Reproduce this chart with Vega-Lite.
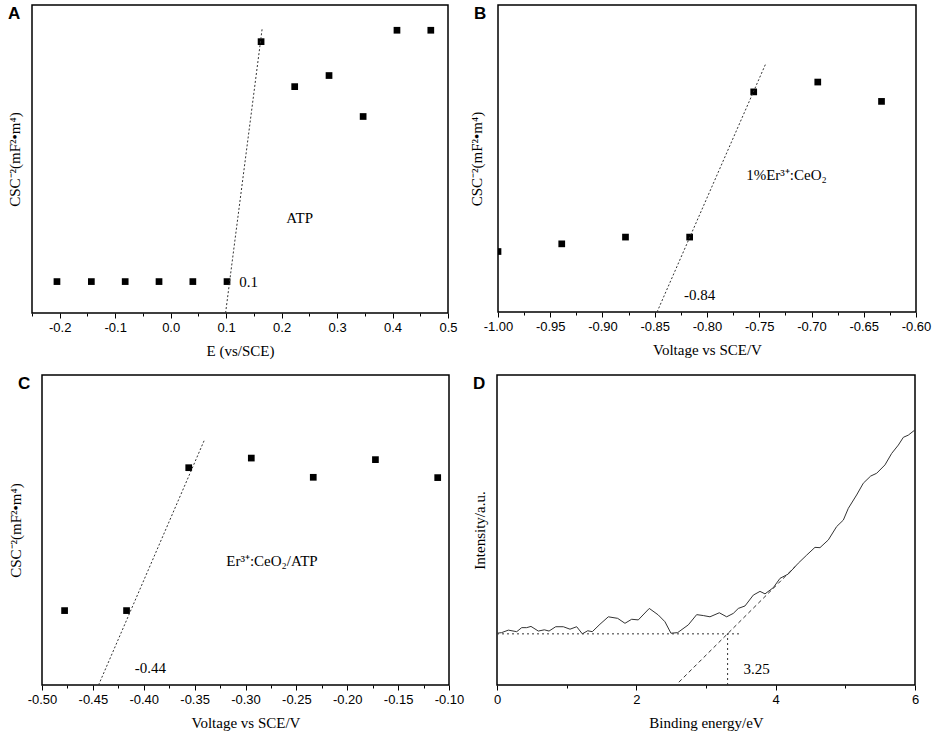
{
  "$schema": "https://vega.github.io/schema/vega-lite/v6.json",
  "padding": {"left": 6, "top": 4, "right": 0, "bottom": 5},
  "datasets": {
    "a_pts": [
      {"x": -0.205, "y": 10.2}, {"x": -0.143, "y": 10.2}, {"x": -0.082, "y": 10.2},
      {"x": -0.021, "y": 10.2}, {"x": 0.040, "y": 10.2}, {"x": 0.1016, "y": 10.2},
      {"x": 0.163, "y": 88.1}, {"x": 0.2236, "y": 73.5}, {"x": 0.2855, "y": 77.1},
      {"x": 0.347, "y": 63.8}, {"x": 0.408, "y": 91.8}, {"x": 0.469, "y": 91.8}
    ],
    "a_fit": [{"x": 0.099, "y": 0}, {"x": 0.165, "y": 92.4}],
    "a_txt": [{"x": 0.1406, "y": 10.2, "label": "0.1"}, {"x": 0.2326, "y": 31, "label": "ATP"}],
    "b_pts": [
      {"x": -1.0, "y": 19.7}, {"x": -0.939, "y": 22.2}, {"x": -0.878, "y": 24.4},
      {"x": -0.8166, "y": 24.4}, {"x": -0.7553, "y": 71.7}, {"x": -0.694, "y": 74.9},
      {"x": -0.633, "y": 68.6}
    ],
    "b_fit": [{"x": -0.8478, "y": 0}, {"x": -0.7439, "y": 80.8}],
    "b_txt": [{"x": -0.807, "y": 5.6, "label": "-0.84"}, {"x": -0.724, "y": 44.5, "label": "1%Er³⁺:CeO₂"}],
    "c_pts": [
      {"x": -0.4778, "y": 24.0}, {"x": -0.4169, "y": 24.0}, {"x": -0.3558, "y": 70.1},
      {"x": -0.2943, "y": 73.2}, {"x": -0.2334, "y": 67.0}, {"x": -0.1723, "y": 72.7},
      {"x": -0.1111, "y": 66.9}
    ],
    "c_fit": [{"x": -0.4444, "y": 0}, {"x": -0.3407, "y": 78.8}],
    "c_txt": [{"x": -0.3934, "y": 5.4, "label": "-0.44"}, {"x": -0.274, "y": 40.1, "label": "Er³⁺:CeO₂/ATP"}],
    "d_curve": [
      {"x": 0.0, "y": 16.7}, {"x": 0.067, "y": 16.9}, {"x": 0.163, "y": 17.7}, {"x": 0.283, "y": 17.2},
      {"x": 0.355, "y": 18.5}, {"x": 0.426, "y": 18.5}, {"x": 0.488, "y": 18.9}, {"x": 0.593, "y": 17.4},
      {"x": 0.68, "y": 17.8}, {"x": 0.747, "y": 17.4}, {"x": 0.843, "y": 18.8}, {"x": 0.952, "y": 18.8},
      {"x": 1.048, "y": 18.0}, {"x": 1.144, "y": 18.8}, {"x": 1.225, "y": 16.5}, {"x": 1.302, "y": 17.5},
      {"x": 1.368, "y": 17.2}, {"x": 1.478, "y": 19.6}, {"x": 1.598, "y": 22.0}, {"x": 1.732, "y": 21.5},
      {"x": 1.837, "y": 19.9}, {"x": 1.933, "y": 21.2}, {"x": 2.028, "y": 21.0}, {"x": 2.186, "y": 24.7},
      {"x": 2.315, "y": 22.6}, {"x": 2.411, "y": 20.4}, {"x": 2.497, "y": 16.7}, {"x": 2.593, "y": 16.9},
      {"x": 2.746, "y": 19.4}, {"x": 2.866, "y": 22.7}, {"x": 2.961, "y": 22.4}, {"x": 3.057, "y": 22.0},
      {"x": 3.191, "y": 23.3}, {"x": 3.297, "y": 22.0}, {"x": 3.392, "y": 23.1}, {"x": 3.464, "y": 24.7},
      {"x": 3.56, "y": 25.5}, {"x": 3.679, "y": 29.0}, {"x": 3.775, "y": 30.2}, {"x": 3.847, "y": 29.4},
      {"x": 3.966, "y": 31.4}, {"x": 4.062, "y": 34.4}, {"x": 4.181, "y": 35.8}, {"x": 4.325, "y": 39.3},
      {"x": 4.445, "y": 41.9}, {"x": 4.564, "y": 44.4}, {"x": 4.636, "y": 44.3}, {"x": 4.756, "y": 46.8},
      {"x": 4.875, "y": 51.1}, {"x": 4.971, "y": 53.2}, {"x": 5.043, "y": 57.0}, {"x": 5.162, "y": 61.3},
      {"x": 5.258, "y": 65.1}, {"x": 5.364, "y": 67.4}, {"x": 5.45, "y": 68.3}, {"x": 5.569, "y": 71.0},
      {"x": 5.665, "y": 74.7}, {"x": 5.761, "y": 77.4}, {"x": 5.833, "y": 79.9}, {"x": 5.904, "y": 80.6},
      {"x": 6.0, "y": 82.3}
    ],
    "d_tangent": [{"x": 2.61, "y": 0.9}, {"x": 4.28, "y": 38.2}],
    "d_hline": [{"x": 0, "x2": 3.5, "y": 16.5}],
    "d_vline": [{"x": 3.31, "y": 0, "y2": 16.5}],
    "d_txt": [{"x": 3.726, "y": 5.2, "label": "3.25"}]
  },
  "spacing": 15,
  "vconcat": [
    {
      "spacing": 10,
      "hconcat": [
        {
          "title": {"text": "A"},
          "width": 416,
          "height": 308,
          "layer": [
            {
              "data": {"name": "a_pts"},
              "mark": {"type": "square", "size": 45, "color": "black", "opacity": 1, "clip": true},
              "encoding": {
                "x": {
                  "field": "x", "type": "quantitative",
                  "scale": {"domain": [-0.25, 0.5], "nice": false, "zero": false},
                  "axis": {
                    "title": "E (vs/SCE)",
                    "format": ".1f",
                    "values": [-0.25, -0.2, -0.15, -0.1, -0.05, 0, 0.05, 0.1, 0.15, 0.2, 0.25, 0.3, 0.35, 0.4, 0.45, 0.5],
                    "labelExpr": "abs(datum.value*10-round(datum.value*10))<0.01 ? replace(datum.label,'\u2212','-') : ''",
                    "tickSize": {"condition": {"test": "abs(datum.value*10-round(datum.value*10))<0.01", "value": 5}, "value": 3}
                  }
                },
                "y": {
                  "field": "y", "type": "quantitative",
                  "scale": {"domain": [0, 100], "nice": false},
                  "axis": {"title": "CSC⁻²(mF²•m⁴)", "titlePadding": 10}
                }
              }
            },
            {
              "data": {"name": "a_fit"},
              "mark": {"type": "line", "color": "#333333", "strokeWidth": 1, "strokeDash": [2, 2]},
              "encoding": {"x": {"field": "x", "type": "quantitative"}, "y": {"field": "y", "type": "quantitative"}}
            },
            {
              "data": {"name": "a_txt"},
              "mark": {"type": "text", "font": "Liberation Serif", "fontSize": 15, "color": "black"},
              "encoding": {"x": {"field": "x", "type": "quantitative"}, "y": {"field": "y", "type": "quantitative"}, "text": {"field": "label"}}
            }
          ]
        },
        {
          "title": {"text": "B"},
          "width": 418,
          "height": 307,
          "layer": [
            {
              "data": {"name": "b_pts"},
              "mark": {"type": "square", "size": 45, "color": "black", "opacity": 1, "clip": true},
              "encoding": {
                "x": {
                  "field": "x", "type": "quantitative",
                  "scale": {"domain": [-1.0, -0.6], "nice": false, "zero": false},
                  "axis": {
                    "title": "Voltage vs SCE/V",
                    "format": ".2f",
                    "values": [-1.0, -0.975, -0.95, -0.925, -0.9, -0.875, -0.85, -0.825, -0.8, -0.775, -0.75, -0.725, -0.7, -0.675, -0.65, -0.625, -0.6],
                    "labelExpr": "abs(datum.value*20-round(datum.value*20))<0.01 ? replace(datum.label,'\u2212','-') : ''",
                    "tickSize": {"condition": {"test": "abs(datum.value*20-round(datum.value*20))<0.01", "value": 5}, "value": 3}
                  }
                },
                "y": {
                  "field": "y", "type": "quantitative",
                  "scale": {"domain": [0, 100], "nice": false},
                  "axis": {"title": "CSC⁻²(mF²•m⁴)", "titlePadding": 14}
                }
              }
            },
            {
              "data": {"name": "b_fit"},
              "mark": {"type": "line", "color": "#333333", "strokeWidth": 1, "strokeDash": [2, 2]},
              "encoding": {"x": {"field": "x", "type": "quantitative"}, "y": {"field": "y", "type": "quantitative"}}
            },
            {
              "data": {"name": "b_txt"},
              "mark": {"type": "text", "font": "Liberation Serif", "fontSize": 15, "color": "black"},
              "encoding": {"x": {"field": "x", "type": "quantitative"}, "y": {"field": "y", "type": "quantitative"}, "text": {"field": "label"}}
            }
          ]
        }
      ]
    },
    {
      "spacing": 6,
      "hconcat": [
        {
          "spacing": -26,
          "hconcat": [
            {
              "width": 1,
              "height": 1,
              "view": {"stroke": null},
              "data": {"values": []},
              "mark": "point"
            },
            {
              "title": {"text": "C"},
              "width": 407,
              "height": 310,
              "layer": [
                {
                  "data": {"name": "c_pts"},
                  "mark": {"type": "square", "size": 45, "color": "black", "opacity": 1, "clip": true},
                  "encoding": {
                    "x": {
                      "field": "x", "type": "quantitative",
                      "scale": {"domain": [-0.5, -0.1], "nice": false, "zero": false},
                      "axis": {
                        "title": "Voltage vs SCE/V",
                        "format": ".2f",
                        "values": [-0.5, -0.475, -0.45, -0.425, -0.4, -0.375, -0.35, -0.325, -0.3, -0.275, -0.25, -0.225, -0.2, -0.175, -0.15, -0.125, -0.1],
                        "labelExpr": "abs(datum.value*20-round(datum.value*20))<0.01 ? replace(datum.label,'\u2212','-') : ''",
                        "tickSize": {"condition": {"test": "abs(datum.value*20-round(datum.value*20))<0.01", "value": 5}, "value": 3}
                      }
                    },
                    "y": {
                      "field": "y", "type": "quantitative",
                      "scale": {"domain": [0, 100], "nice": false},
                      "axis": {"title": "CSC⁻²(mF²•m⁴)", "titlePadding": 19}
                    }
                  }
                },
                {
                  "data": {"name": "c_fit"},
                  "mark": {"type": "line", "color": "#333333", "strokeWidth": 1, "strokeDash": [2, 2]},
                  "encoding": {"x": {"field": "x", "type": "quantitative"}, "y": {"field": "y", "type": "quantitative"}}
                },
                {
                  "data": {"name": "c_txt"},
                  "mark": {"type": "text", "font": "Liberation Serif", "fontSize": 15, "color": "black"},
                  "encoding": {"x": {"field": "x", "type": "quantitative"}, "y": {"field": "y", "type": "quantitative"}, "text": {"field": "label"}}
                }
              ]
            }
          ]
        },
        {
          "title": {"text": "D"},
          "width": 418,
          "height": 310,
          "layer": [
            {
              "data": {"name": "d_curve"},
              "mark": {"type": "line", "color": "#333333", "strokeWidth": 1, "clip": true},
              "encoding": {
                "x": {
                  "field": "x", "type": "quantitative",
                  "scale": {"domain": [0, 6], "nice": false, "zero": false},
                  "axis": {
                    "title": "Binding energy/eV",
                    "values": [0, 1, 2, 3, 4, 5, 6],
                    "labelExpr": "datum.value % 2 == 0 ? format(datum.value,'d') : ''",
                    "tickSize": {"condition": {"test": "datum.value % 2 == 0", "value": 5}, "value": 3}
                  }
                },
                "y": {
                  "field": "y", "type": "quantitative",
                  "scale": {"domain": [0, 100], "nice": false},
                  "axis": {"title": "Intensity/a.u.", "titlePadding": 10}
                }
              }
            },
            {
              "data": {"name": "d_tangent"},
              "mark": {"type": "line", "color": "#333333", "strokeWidth": 1, "strokeDash": [4, 3]},
              "encoding": {"x": {"field": "x", "type": "quantitative"}, "y": {"field": "y", "type": "quantitative"}}
            },
            {
              "data": {"name": "d_hline"},
              "mark": {"type": "rule", "color": "#333333", "strokeWidth": 1, "strokeDash": [2, 3]},
              "encoding": {"x": {"field": "x", "type": "quantitative"}, "x2": {"field": "x2"}, "y": {"field": "y", "type": "quantitative"}}
            },
            {
              "data": {"name": "d_vline"},
              "mark": {"type": "rule", "color": "#333333", "strokeWidth": 1, "strokeDash": [2, 3]},
              "encoding": {"x": {"field": "x", "type": "quantitative"}, "y": {"field": "y", "type": "quantitative"}, "y2": {"field": "y2"}}
            },
            {
              "data": {"name": "d_txt"},
              "mark": {"type": "text", "font": "Liberation Serif", "fontSize": 15, "color": "black"},
              "encoding": {"x": {"field": "x", "type": "quantitative"}, "y": {"field": "y", "type": "quantitative"}, "text": {"field": "label"}}
            }
          ]
        }
      ]
    }
  ],
  "config": {
    "view": {"stroke": "black", "strokeWidth": 1.5},
    "axis": {
      "grid": false, "domain": false,
      "labelFont": "Liberation Sans", "labelFontSize": 13, "labelColor": "black", "labelPadding": 3,
      "labelFlush": false, "labelOverlap": false,
      "tickColor": "black", "tickWidth": 1,
      "titleFont": "Liberation Serif", "titleFontSize": 15, "titleFontWeight": "normal", "titleColor": "black"
    },
    "axisX": {"titlePadding": 9, "tickCount": 40},
    "axisY": {"labels": false, "ticks": false},
    "title": {
      "anchor": "start", "frame": "group", "font": "Liberation Sans", "fontSize": 17,
      "fontWeight": "bold", "color": "black", "dx": -24, "dy": 22, "offset": 0
    }
  }
}
